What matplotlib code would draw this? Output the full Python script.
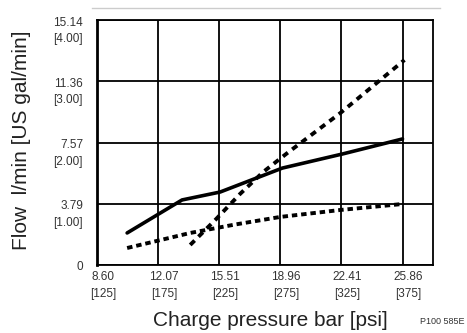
import numpy as np
import matplotlib
matplotlib.use('Agg')
import matplotlib.pyplot as plt
import matplotlib.transforms as mtransforms
from matplotlib.lines import Line2D

plt.rcParams['font.family'] = ['Liberation Sans', 'DejaVu Sans']

# charge pressure in bar, flow in l/min
solid_x = [10.32, 13.42, 15.57, 19.08, 22.47, 25.86]
solid_y = [1.98, 4.02, 4.51, 5.99, 6.86, 7.79]

steep_x = [13.88, 15.29, 16.70, 18.00, 19.36, 22.35, 25.97]
steep_y = [1.24, 2.78, 4.40, 5.75, 6.92, 9.39, 12.67]

low_x = [10.32, 13.88, 16.40, 18.96, 22.35, 25.86]
low_y = [1.05, 1.98, 2.50, 2.97, 3.40, 3.77]

x_ticks = [8.62, 12.07, 15.51, 18.96, 22.41, 25.86]
x_labels = ['8.60\n[125]', '12.07\n[175]', '15.51\n[225]', '18.96\n[275]',
            '22.41\n[325]', '25.86\n[375]']
y_ticks = [0, 3.79, 7.57, 11.36, 15.14]
y_labels = ['0', '3.79\n[1.00]', '7.57\n[2.00]', '11.36\n[3.00]', '15.14\n[4.00]']

fig = plt.figure(figsize=(4.67, 3.33), dpi=100)
ax = fig.add_axes([97/467, 1-265/333, 336/467, 245/333])

ax.plot(solid_x, solid_y, color='black', lw=2.6, solid_capstyle='round')
ax.plot(steep_x, steep_y, color='black', lw=2.8, linestyle=(0, (1.6, 1.4)))
ax.plot(low_x, low_y, color='black', lw=2.8, linestyle=(0, (1.4, 1.0)))

ax.set_xlim(8.62, 27.58)
ax.set_ylim(0, 15.14)
ax.set_xticks(x_ticks)
ax.set_yticks(y_ticks)
ax.set_xticklabels(x_labels, fontsize=8.5, linespacing=1.6, color='#333333')
ax.set_yticklabels(y_labels, fontsize=8.5, linespacing=1.5, color='#333333',
                   ha='right')
ax.tick_params(axis='x', length=0, pad=4)
ax.tick_params(axis='y', length=0, pad=10)
ax.grid(True, color='black', lw=1.3)
for s in ax.spines.values():
    s.set_linewidth(1.3)
ax.spines['left'].set_linewidth(2.0)

# nudge tick labels like the original print
dy = mtransforms.ScaledTranslation(0, -7/100, fig.dpi_scale_trans)
for lab in ax.get_yticklabels()[1:]:
    lab.set_transform(lab.get_transform() + dy)
dx = mtransforms.ScaledTranslation(6/100, 0, fig.dpi_scale_trans)
for lab in ax.get_xticklabels():
    lab.set_transform(lab.get_transform() + dx)

fig.text(270/467, 1-320/333, 'Charge pressure bar [psi]', fontsize=15,
         color='#222222', ha='center', va='center')
fig.text(22/467, 1-140/333, 'Flow  l/min [US gal/min]', fontsize=15,
         color='#222222', ha='center', va='center', rotation=90)

fig.text(420/467, 1-322/333, 'P100 585E', fontsize=6.5, color='#333333',
         va='center')
fig.add_artist(Line2D([92/467, 440/467], [1-8/333, 1-8/333],
                      color='#cccccc', lw=1.0))

fig.savefig('out.png', dpi=100)
